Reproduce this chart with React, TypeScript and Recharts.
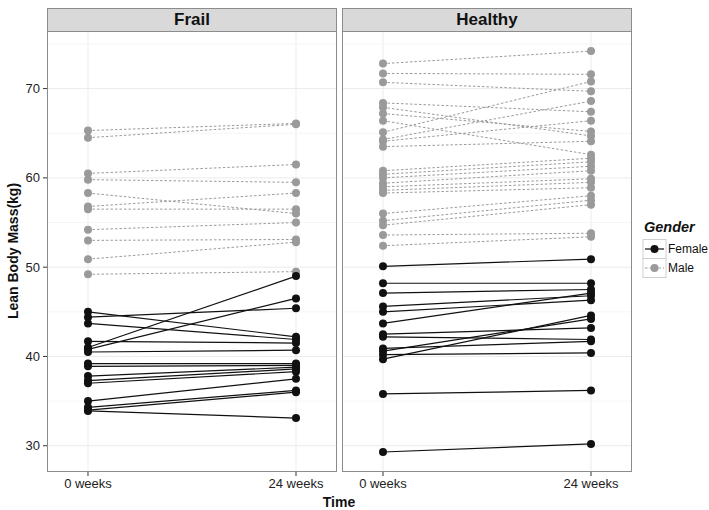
import React from 'react';
import { LineChart, Line, XAxis, YAxis, CartesianGrid, ReferenceLine } from 'recharts';

const timeValues = [0, 24];
const timeLabels = ['0 weeks', '24 weeks'];
const yTicks = [30, 40, 50, 60, 70];
const yMinor = [35, 45, 55, 65, 75];

const frailMale0 = [65.3, 64.5, 60.5, 59.8, 58.3, 56.8, 56.5, 54.2, 53.0, 50.9, 49.2];
const frailMale24 = [66.1, 66.0, 61.5, 59.5, 56.0, 58.3, 56.5, 55.0, 53.1, 52.8, 49.5];
const frailFemale0 = [45.0, 44.4, 43.7, 41.7, 41.0, 40.8, 40.5, 39.2, 38.9, 37.8, 37.3, 37.0, 35.0, 34.3, 34.0, 33.9];
const frailFemale24 = [42.2, 45.4, 41.9, 41.5, 49.0, 46.5, 40.7, 39.2, 39.0, 38.8, 38.6, 38.3, 37.5, 36.2, 36.0, 33.1];

const healthyMale0 = [72.8, 71.7, 70.7, 68.4, 67.9, 67.2, 66.4, 65.1, 64.3, 64.1, 63.5, 60.8, 60.4, 60.0, 59.4, 59.0, 58.6, 58.3, 56.0, 55.2, 54.7, 53.6, 52.4];
const healthyMale24 = [74.2, 71.6, 69.7, 67.4, 64.7, 65.2, 62.6, 70.8, 68.6, 66.4, 64.1, 62.2, 61.8, 61.3, 60.8, 59.9, 59.5, 58.9, 58.0, 57.5, 57.0, 53.8, 53.4];
const healthyFemale0 = [50.1, 48.2, 47.1, 45.6, 45.0, 43.7, 42.5, 42.2, 40.9, 40.6, 40.2, 39.7, 35.8, 29.3];
const healthyFemale24 = [50.9, 48.2, 47.5, 46.8, 46.3, 47.1, 43.2, 41.9, 41.7, 44.2, 40.4, 44.6, 36.2, 30.2];

const FONT = '"Liberation Sans", Arial, Helvetica, sans-serif';
const MALE_COLOR = '#9a9a9a';
const FEMALE_COLOR = '#111111';
const BORDER = '#8c8c8c';

function buildRows(m0: number[], m24: number[], f0: number[], f24: number[]) {
  return timeValues.map((t, ti) => {
    const row: Record<string, number> = { t };
    (ti === 0 ? m0 : m24).forEach((v, i) => (row['m' + i] = v));
    (ti === 0 ? f0 : f24).forEach((v, i) => (row['f' + i] = v));
    return row;
  });
}

const Panel = ({ title, m0, m24, f0, f24, showY, left, width }: any) => {
  const rows = buildRows(m0, m24, f0, f24);
  const yW = showY ? 47 : 0;
  return (
    <>
      <div style={{ position: 'absolute', left, top: 31 }}>
        <LineChart width={width + yW} height={479} data={rows} margin={{ top: 0, right: 0, bottom: 0, left: 0 }}>
          <CartesianGrid stroke="#ebebeb" strokeWidth={1} horizontalValues={yTicks} verticalValues={timeValues} />
          {yMinor.map((v) => (
            <ReferenceLine key={v} y={v} stroke="#f5f5f5" strokeWidth={1} />
          ))}
          <XAxis
            type="number"
            dataKey="t"
            domain={[-4.73, 28.73]}
            ticks={timeValues}
            tickFormatter={(v: number) => timeLabels[timeValues.indexOf(v)]}
            height={38}
            axisLine={false}
            tickLine={{ stroke: '#333' }}
            tickSize={4}
            tickMargin={3}
            tick={{ fill: '#222', fontSize: 13, fontFamily: FONT }}
            interval={0}
          />
          <YAxis
            type="number"
            domain={[27.06, 76.45]}
            ticks={yTicks}
            hide={!showY}
            width={yW}
            axisLine={false}
            tickLine={{ stroke: '#333' }}
            tickSize={4}
            tickMargin={3}
            tick={{ fill: '#222', fontSize: 13, fontFamily: FONT }}
            allowDataOverflow
          />
          {m0.map((_: number, i: number) => (
            <Line
              key={'m' + i}
              dataKey={'m' + i}
              stroke={MALE_COLOR}
              strokeWidth={1}
              strokeDasharray="2.5 2"
              dot={{ r: 4, fill: MALE_COLOR, stroke: MALE_COLOR, strokeWidth: 0 }}
              isAnimationActive={false}
            />
          ))}
          {f0.map((_: number, i: number) => (
            <Line
              key={'f' + i}
              dataKey={'f' + i}
              stroke={FEMALE_COLOR}
              strokeWidth={1.2}
              dot={{ r: 4, fill: FEMALE_COLOR, stroke: FEMALE_COLOR, strokeWidth: 0 }}
              isAnimationActive={false}
            />
          ))}
        </LineChart>
      </div>
      <div
        style={{
          position: 'absolute',
          left: left + yW,
          top: 31,
          width,
          height: 441,
          border: `1px solid ${BORDER}`,
          boxSizing: 'border-box',
          pointerEvents: 'none',
        }}
      />
      <div
        style={{
          position: 'absolute',
          left: left + yW,
          top: 8,
          width,
          height: 24,
          background: '#d9d9d9',
          border: `1px solid ${BORDER}`,
          boxSizing: 'border-box',
          display: 'flex',
          alignItems: 'center',
          justifyContent: 'center',
          fontFamily: FONT,
          fontWeight: 'bold',
          fontSize: 17,
          color: '#111',
        }}
      >
        {title}
      </div>
    </>
  );
};

export default function App() {
  return (
    <div style={{ position: 'absolute', left: 0, top: 0, width: 709, height: 510, background: '#fff', overflow: 'hidden' }}>
      <Panel title="Frail" m0={frailMale0} m24={frailMale24} f0={frailFemale0} f24={frailFemale24} showY left={0} width={290} />
      <Panel title="Healthy" m0={healthyMale0} m24={healthyMale24} f0={healthyFemale0} f24={healthyFemale24} showY={false} left={342} width={290} />
      <svg width={709} height={510} style={{ position: 'absolute', left: 0, top: 0, pointerEvents: 'none' }}>
        <text x={339} y={507} textAnchor="middle" fontFamily={FONT} fontWeight="bold" fontSize={14} fill="#111">
          Time
        </text>
        <text
          x={13}
          y={251}
          textAnchor="middle"
          dominantBaseline="central"
          transform="rotate(-90 13 251)"
          fontFamily={FONT}
          fontWeight="bold"
          fontSize={14}
          fill="#111"
        >
          Lean Body Mass(kg)
        </text>
        <text x={644} y={232} fontFamily={FONT} fontWeight="bold" fontStyle="italic" fontSize={14.5} fill="#111">
          Gender
        </text>
        <rect x={643} y={239.5} width={23} height={19} fill="#fff" stroke="#d0d0d0" strokeWidth={1} />
        <rect x={643} y={258.5} width={23} height={19} fill="#fff" stroke="#d0d0d0" strokeWidth={1} />
        <line x1={645} y1={249} x2={664} y2={249} stroke={FEMALE_COLOR} strokeWidth={1.2} />
        <circle cx={654.5} cy={249} r={4} fill={FEMALE_COLOR} />
        <line x1={645} y1={268} x2={664} y2={268} stroke={MALE_COLOR} strokeWidth={1} strokeDasharray="2.5 2" />
        <circle cx={654.5} cy={268} r={4} fill={MALE_COLOR} />
        <text x={668} y={249} dominantBaseline="central" fontFamily={FONT} fontSize={12} fill="#111">
          Female
        </text>
        <text x={668} y={268} dominantBaseline="central" fontFamily={FONT} fontSize={12} fill="#111">
          Male
        </text>
      </svg>
    </div>
  );
}
